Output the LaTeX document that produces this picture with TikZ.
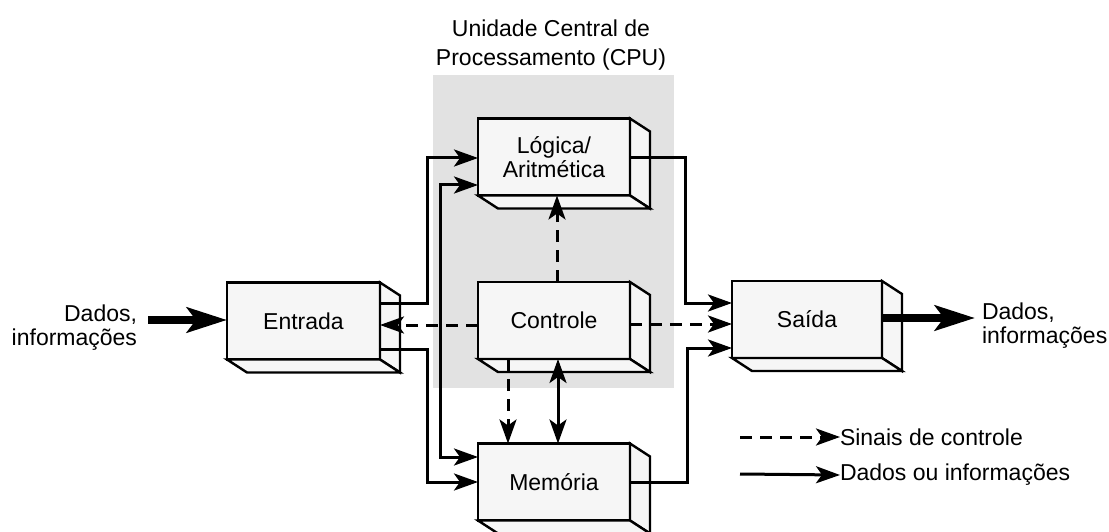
\documentclass[tikz,border=0pt]{standalone}
\usepackage{fontspec}
\setmainfont{Liberation Sans}
\usetikzlibrary{arrows.meta,calc}
\definecolor{boxfill}{gray}{0.965}
\definecolor{cpufill}{gray}{0.885}
\newcommand\boxfaces[1]{%
  \draw[face] (#1.north east) -- ++(20,13) -- ($(#1.south east)+(20,13)$) -- (#1.south east) -- cycle;
  \draw[face] (#1.south west) -- ++(20,13) -- ($(#1.south east)+(20,13)$) -- (#1.south east) -- cycle;}
\begin{document}
\begin{tikzpicture}[x=1pt,y=-1pt,
  font=\fontsize{23}{24}\selectfont,
  blk/.style={draw=black, line width=2.4pt, fill=boxfill, minimum width=152pt, minimum height=77pt, outer sep=0pt, inner sep=0pt, align=center},
  face/.style={draw=black, line width=2.4pt, fill=boxfill, line join=miter},
  tipa/.tip={Stealth[length=24pt,width=17pt,inset=6pt]},
  data/.style={line width=3pt, -tipa},
  both/.style={line width=3pt, tipa-tipa},
  ctrl/.style={data, dash pattern=on 12pt off 8pt},
  big/.style={line width=8pt, -{Stealth[length=40pt,width=25pt,inset=9pt]}},
  lbl/.style={inner sep=0pt, outer sep=0pt}
]
\useasboundingbox (0,0) rectangle (1109,532);
% CPU region
\node[fill=cpufill, minimum width=241pt, minimum height=313pt, inner sep=0pt, outer sep=0pt] (cpu) at (553.5,231.5) {};
\node[lbl, align=center, font=\fontsize{23}{29}\selectfont] (title) at (551,45) {Unidade Central de\\Processamento (CPU)};
% blocks
\node[blk] (log) at (554,157) {Lógica/\\Aritmética};
\boxfaces{log}
\node[blk] (ctl) at (554,320.5) {Controle};
\boxfaces{ctl}
\node[blk] (mem) at (554,482) {Memória};
\boxfaces{mem}
\node[blk, minimum width=153pt] (ent) at (303.5,321) {Entrada};
\boxfaces{ent}
\node[blk, minimum width=150pt] (sai) at (807,319.5) {Saída};
\boxfaces{sai}
% data connectors
\draw[data] (ent.east |- 0,303) -- (427,303) -- (427,158) -- (log.west |- 0,158);
\draw[data] (ent.east |- 0,349) -- (427,349) -- (427,482) -- (mem.west |- 0,482);
\draw[both] (log.west |- 0,185) -- (440,185) -- (440,457) -- (mem.west |- 0,457);
\draw[data] (log.east |- 0,158) -- (685,158) -- (685,303) -- (sai.west |- 0,303);
\draw[data] (mem.east |- 0,482) -- (687,482) -- (687,348) -- (sai.west |- 0,348);
\draw[both] (ctl.south -| 558,0) -- (mem.north -| 558,0);
% control connectors
\draw[ctrl] (ctl.west |- 0,325) -- (ent.east |- 0,325);
\draw[ctrl] (ctl.east |- 0,324) -- (sai.west |- 0,324);
\draw[ctrl] (ctl.north -| 557,0) -- (log.south -| 557,0);
\draw[ctrl] (ctl.south -| 508,0) -- (mem.north -| 508,0);
% input / output
\node[lbl, anchor=east, align=right] (din) at (137,328) {Dados,\\informações};
\node[lbl, anchor=west, align=left] (dout) at (982,326) {Dados,\\informações};
\coordinate (inL) at (148,320);
\coordinate (outR) at (975,318);
\draw[big] (inL) -- (ent.west |- inL);
\draw[big] (sai.east |- outR) -- (outR);
% legend
\coordinate (k1) at (740,437);
\coordinate (k2) at (740,474);
\node[lbl, anchor=west] (k1t) at (840,437) {Sinais de controle};
\node[lbl, anchor=west] (k2t) at (840,475) {Dados ou informações};
\draw[ctrl] (k1) -- (k1t.west);
\draw[data] (k2) -- (k2t.west);
\end{tikzpicture}
\end{document}
